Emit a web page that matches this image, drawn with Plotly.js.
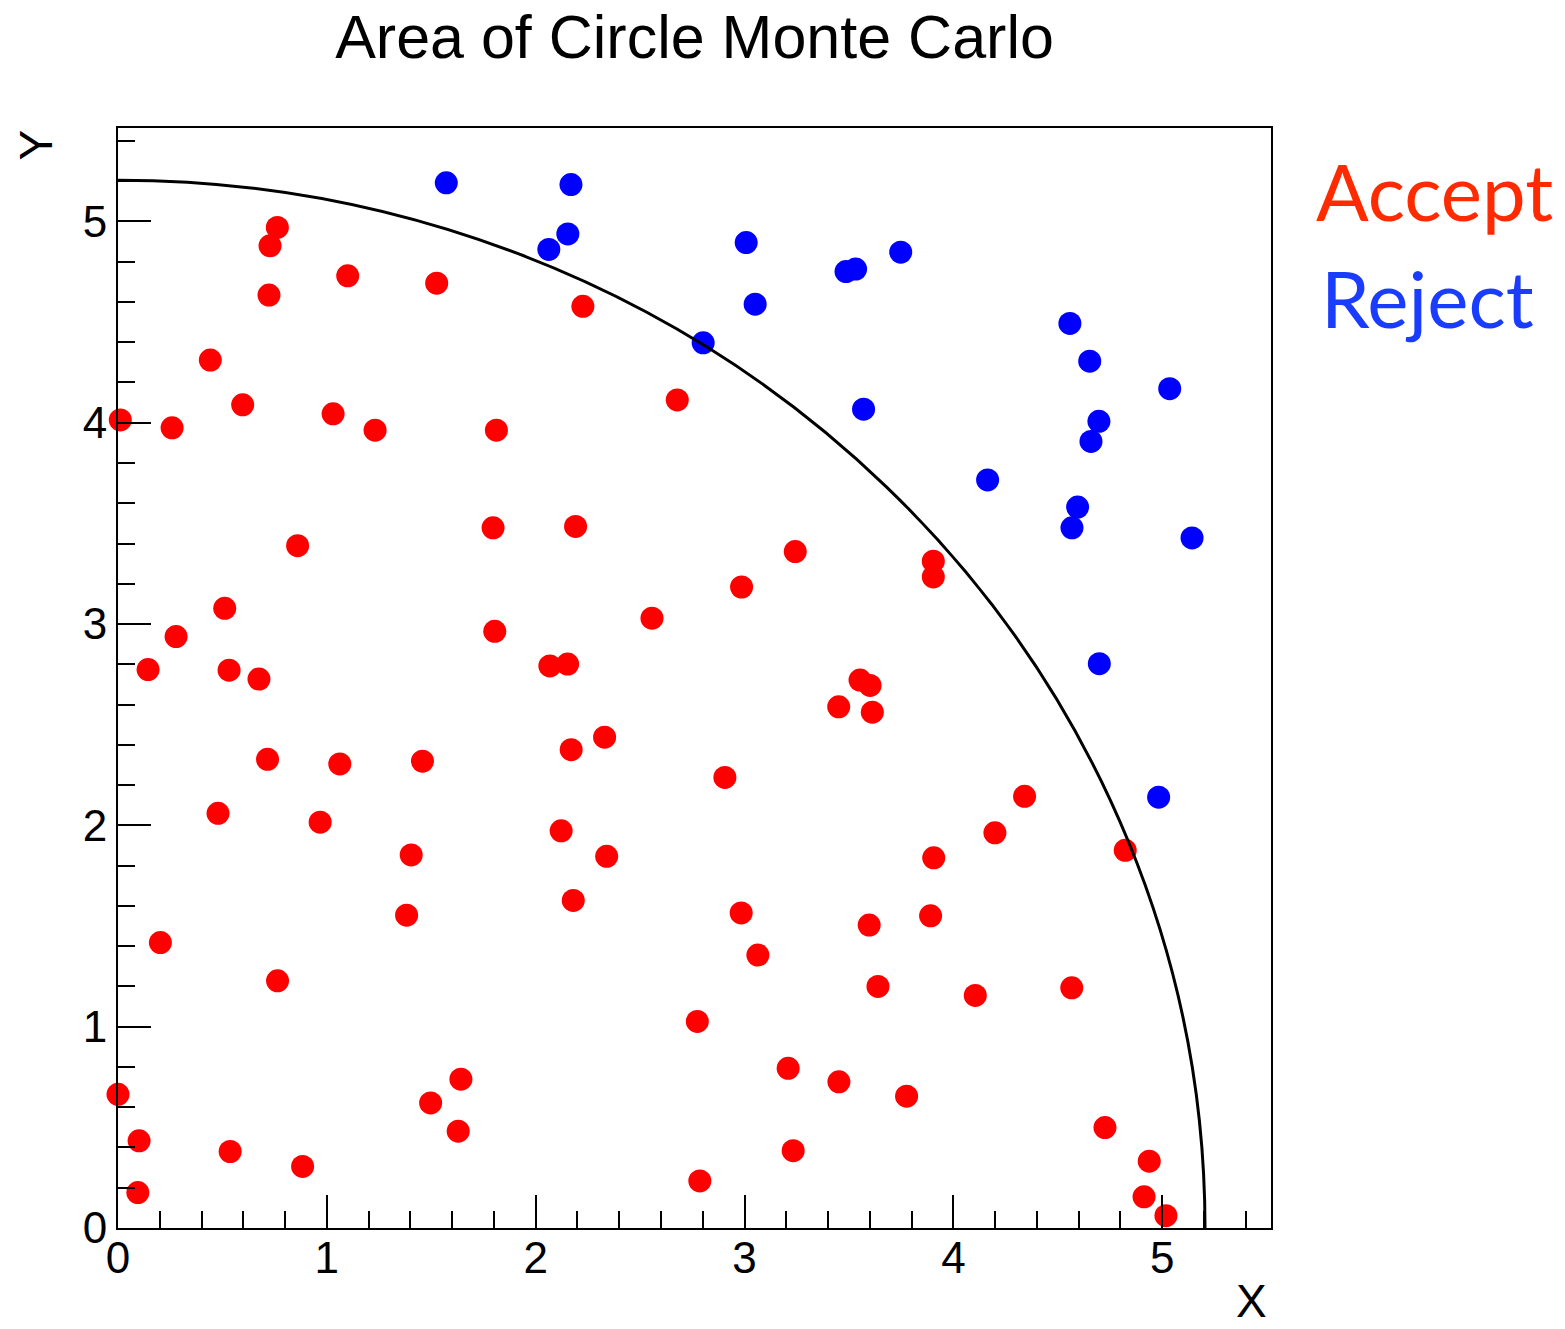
<!DOCTYPE html>
<html>
<head>
<meta charset="utf-8">
<script src="https://cdn.plot.ly/plotly-3.0.1.min.js"></script>
<style>
  html, body { margin: 0; padding: 0; background: #ffffff; }
  #chart { width: 1565px; height: 1329px; }
</style>
</head>
<body>
<div id="chart"></div>
<script>
// Accepted throws (inside the quarter circle)
const acceptX = [0.763, 0.728, 0.723, 1.100, 1.526, 0.442, 0.597, 0.011, 0.259, 1.030,
                 1.231, 1.812, 0.860, 1.796, 0.511, 0.278, 1.804, 0.144, 0.532, 0.675,
                 2.226, 2.678, 2.191, 3.243, 2.986, 2.557, 2.068, 2.153, 3.904, 3.904,
                 3.553, 3.601, 3.451, 3.612, 2.170, 2.330, 2.906, 2.122, 2.340, 2.180,
                 2.984, 3.064, 3.597, 3.639, 2.774, 3.209, 3.452, 3.233, 2.786, 0.716,
                 1.062, 1.458, 0.479, 0.968, 1.404, 1.382, 0.203, 0.764, 0.000, 1.642,
                 1.497, 1.629, 0.101, 0.537, 0.884, 0.095, 4.341, 4.199, 4.823, 3.906,
                 3.891, 4.105, 4.567, 3.776, 4.726, 4.938, 4.913, 5.018];
const acceptY = [4.970, 4.879, 4.634, 4.730, 4.693, 4.311, 4.089, 4.014, 3.975, 4.044,
                 3.963, 3.963, 3.389, 3.478, 3.078, 2.938, 2.964, 2.774, 2.771, 2.727,
                 4.578, 4.113, 3.485, 3.360, 3.184, 3.029, 2.792, 2.801, 3.312, 3.234,
                 2.722, 2.695, 2.589, 2.562, 2.376, 2.438, 2.238, 1.973, 1.846, 1.627,
                 1.565, 1.356, 1.505, 1.200, 1.026, 0.793, 0.726, 0.384, 0.234, 2.328,
                 2.305, 2.319, 2.060, 2.016, 1.853, 1.554, 1.418, 1.228, 0.664, 0.739,
                 0.621, 0.481, 0.433, 0.380, 0.306, 0.176, 2.144, 1.963, 1.876, 1.839,
                 1.551, 1.155, 1.193, 0.655, 0.499, 0.332, 0.155, 0.061];

// Rejected throws (outside the quarter circle)
const rejectX = [1.572, 2.169, 2.154, 2.063, 3.008, 3.486, 3.532, 3.051, 2.802, 3.570,
                 3.748, 4.558, 4.653, 5.036, 4.697, 4.659, 4.164, 4.595, 4.568, 5.143,
                 4.699, 4.983];
const rejectY = [5.192, 5.183, 4.938, 4.861, 4.895, 4.751, 4.763, 4.589, 4.397, 4.067,
                 4.847, 4.493, 4.306, 4.169, 4.007, 3.907, 3.716, 3.581, 3.478, 3.428,
                 2.803, 2.140];

// Circle radius and axis extents
const circleRadius = 5.205;
const xRange = [0, 5.521];
const yRange = [0, 5.464];
const xTicks = [0, 1, 2, 3, 4, 5];
const yTicks = [0, 1, 2, 3, 4, 5];

const tickFont = { family: 'Liberation Sans, Arial, sans-serif', size: 44, color: '#000' };

const axisCommon = {
  showgrid: false,
  zeroline: false,
  showline: true,
  linecolor: '#000',
  linewidth: 2,
  mirror: true,
  ticks: 'inside',
  ticklen: 33,
  tickwidth: 2,
  tickcolor: '#000',
  tickmode: 'array',
  tickfont: tickFont,
  minor: { ticks: 'inside', ticklen: 17, tickwidth: 2, tickcolor: '#000', dtick: 0.2, tick0: 0, showgrid: false }
};

const traces = [
  {
    type: 'scatter', mode: 'markers',
    x: acceptX, y: acceptY,
    marker: { color: '#ff0000', size: 23, line: { width: 0 } },
    cliponaxis: false,
    showlegend: false, hoverinfo: 'skip'
  },
  {
    type: 'scatter', mode: 'markers',
    x: rejectX, y: rejectY,
    marker: { color: '#0000ff', size: 23, line: { width: 0 } },
    cliponaxis: false,
    showlegend: false, hoverinfo: 'skip'
  }
];

const layout = {
  width: 1565, height: 1329,
  margin: { l: 118, r: 294, t: 128, b: 101 },
  paper_bgcolor: '#fff', plot_bgcolor: '#fff',
  showlegend: false,
  title: {
    text: 'Area of Circle Monte Carlo',
    font: { family: 'Liberation Sans, Arial, sans-serif', size: 61, color: '#000' },
    xref: 'paper', x: 0.5, xanchor: 'center',
    yref: 'container', y: 1 - 37 / 1329, yanchor: 'middle'
  },
  xaxis: Object.assign({}, axisCommon, {
    range: xRange, tickvals: xTicks, ticktext: xTicks.map(String), ticklabelstandoff: -10
  }),
  yaxis: Object.assign({}, axisCommon, { range: yRange, tickvals: yTicks, ticktext: yTicks.map(String) }),
  shapes: [
    {
      type: 'circle', xref: 'x', yref: 'y', layer: 'above',
      x0: -circleRadius, y0: -circleRadius, x1: circleRadius, y1: circleRadius,
      line: { color: '#000', width: 3 }, fillcolor: 'rgba(0,0,0,0)'
    }
  ],
  annotations: [
    { text: 'X', xref: 'paper', yref: 'paper', x: 1, y: 0, xanchor: 'right', yanchor: 'bottom',
      xshift: -2, yshift: -101, showarrow: false,
      font: { family: 'Liberation Sans, Arial, sans-serif', size: 46, color: '#000' } },
    { text: 'Y', xref: 'paper', yref: 'paper', x: 0, y: 1, xanchor: 'right', yanchor: 'top',
      xshift: -55, yshift: 0, textangle: -90, showarrow: false,
      font: { family: 'Liberation Sans, Arial, sans-serif', size: 46, color: '#000' } },
    { text: 'Accept', xref: 'paper', yref: 'paper', x: 1, y: 1, xanchor: 'left', yanchor: 'middle',
      xshift: 43, yshift: -63, showarrow: false,
      font: { family: 'Lato, sans-serif', size: 78, color: '#ff2a00' } },
    { text: 'Reject', xref: 'paper', yref: 'paper', x: 1, y: 1, xanchor: 'left', yanchor: 'middle',
      xshift: 48, yshift: -170, showarrow: false,
      font: { family: 'Lato, sans-serif', size: 78, color: '#1a3cff' } }
  ]
};

Plotly.newPlot('chart', traces, layout, { staticPlot: true, displayModeBar: false });
</script>
</body>
</html>
